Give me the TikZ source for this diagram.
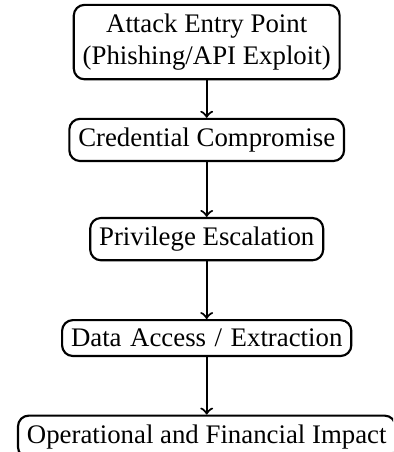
\documentclass[tikz,border=0pt]{standalone}
\usepackage{fontspec}
\setmainfont{Liberation Serif}
\begin{document}
\begin{tikzpicture}[x=1pt,y=1pt,
  stagebox/.style={draw, thick, rounded corners=4pt, align=center, inner sep=3.33pt, font=\fontsize{10}{12}\selectfont},
  flow/.style={->, thick}]
\useasboundingbox (0,0) rectangle (146.6,168.6);
\begin{scope}
\clip (0,0) rectangle (146.6,168.6);
\node[stagebox] (n1) at (77.1,152.9) {Attack Entry Point\\(Phishing/API Exploit)};
\node[stagebox] (n2) at (77.1,116.4) {Credential Compromise};
\node[stagebox] (n3) at (77.1,79.4) {Privilege Escalation};
\node[stagebox] (n4) at (77.1,42.5) {Data\hspace{3.2pt}Access\hspace{3.2pt}/\hspace{3.2pt}Extraction};
\node[stagebox] (n5) at (77.1,5.7) {Operational and Financial Impact};
\draw[flow] (n1) -- (n2);
\draw[flow] (n2) -- (n3);
\draw[flow] (n3) -- (n4);
\draw[flow] (n4) -- (n5);
\end{scope}
\end{tikzpicture}
\end{document}
